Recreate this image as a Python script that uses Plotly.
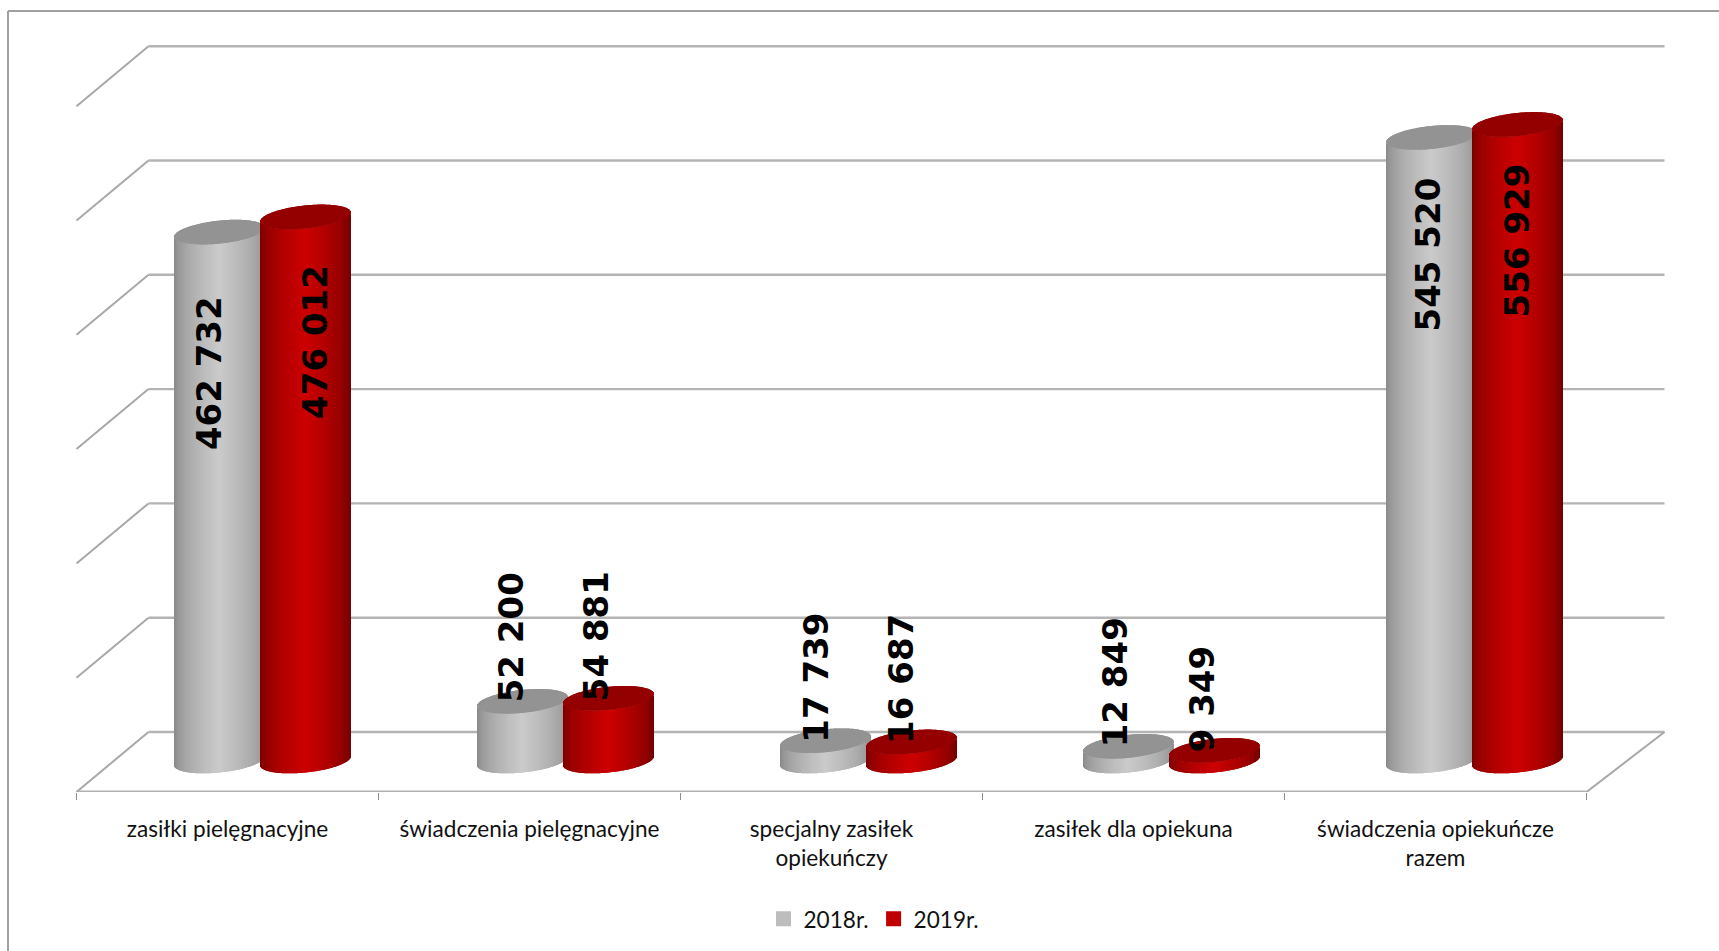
import math
import plotly.graph_objects as go

# ---- data ----
categories = ["zasiłki pielęgnacyjne", "świadczenia pielęgnacyjne",
              "specjalny zasiłek<br>opiekuńczy", "zasiłek dla opiekuna",
              "świadczenia opiekuńcze<br>razem"]
values_2018 = [462732, 52200, 17739, 12849, 545520]
values_2019 = [476012, 54881, 16687, 9349, 556929]
series_names = ["2018r.", "2019r."]
grid_values = [0, 100000, 200000, 300000, 400000, 500000, 600000]

# ---- geometry / style ----
W, H = 1719, 951
FLOOR_PX = 792          # front floor line
UNIT_PX = 114.3         # pixels per 100 000
CAT_PX = 302.0          # pixels per category
CAT0_PX = 227.5         # front centre of the first category
DEPTH_L, DEPTH_R, DEPTH_Y = 72.0, 78.0, 60.0
xu = lambda px: px / CAT_PX
yu = lambda px: px * 100000 / UNIT_PX
GREY_LINE = "#b4b4b4"

fig = go.Figure()


def line(x0, y0, x1, y1, color=GREY_LINE, width=2.4):
    fig.add_shape(type="line", xref="x", yref="y", x0=x0, y0=y0, x1=x1, y1=y1,
                  layer="below", line=dict(color=color, width=width))


back_l, back_r = -0.5 + xu(DEPTH_L), 4.5 + xu(DEPTH_R)
for v in grid_values:
    line(back_l, v + yu(DEPTH_Y), back_r, v + yu(DEPTH_Y))
    line(-0.5, v, back_l, v + yu(DEPTH_Y), "#a8a8a8", 2)
line(-0.5, yu(0.5), 4.5, yu(0.5), "#b0b0b0", 2.2)
line(4.5, 0, back_r, yu(DEPTH_Y), "#a8a8a8", 2)

# ---- cylinders ----
A_PX, B_PX, TILT_PX = 45.0, 11.5, 4.5
MID = yu(31)                   # level of the cylinder base centre
SHIFT = xu(35)
SEP = xu(43)
STRIDE = 303.0 / CAT_PX        # cylinder pairs sit slightly wider apart than the ticks
N = 90


def ramp(u, edge_l, mid, edge_r):
    t = 1 - abs(u)
    e = edge_l if u < 0 else edge_r
    s = t ** 0.55
    return "rgb(%d,%d,%d)" % tuple(round(e[k] + (mid[k] - e[k]) * s) for k in range(3))


def cylinder_series(values, sign, name, edge_l, mid, edge_r, top):
    xs, bases, ys, cols, tbases, tys = [], [], [], [], [], []
    for i, val in enumerate(values):
        cx = i * STRIDE + SHIFT + sign * SEP
        for j in range(N):
            u = -1 + (2 * j + 1) / N
            half = yu(B_PX) * math.sqrt(1 - u * u)
            low = MID - half + yu(TILT_PX) * u
            xs.append(cx + xu(A_PX) * u)
            bases.append(low)
            ys.append(val)
            cols.append(ramp(u, edge_l, mid, edge_r))
            tbases.append(low + val)
            tys.append(2 * half)
    width = xu(A_PX) * 2 / N
    fig.add_trace(go.Bar(x=xs, y=ys, base=bases, width=width,
                         marker=dict(color=cols, line=dict(width=0)), name=name,
                         showlegend=False, hoverinfo="skip"))
    fig.add_trace(go.Bar(x=xs, y=tys, base=tbases, width=width,
                         marker=dict(color=top, line=dict(width=0)), name=name + " top",
                         showlegend=False, hoverinfo="skip"))


cylinder_series(values_2018, -1, series_names[0], (132, 132, 132), (202, 202, 202), (140, 140, 140), "#939393")
cylinder_series(values_2019, 1, series_names[1], (118, 0, 0), (204, 0, 0), (108, 0, 0), "#940000")

# ---- legend entries ----
for name, col in zip(series_names, ["#bdbdbd", "#c00000"]):
    fig.add_trace(go.Scatter(x=[None], y=[None], mode="markers", name=name,
                             marker=dict(symbol="square", size=15, color=col)))

# ---- data labels (rotated) ----
label_dx = [[-11, -11, -8, -11, 0], [8, -13, -10, -11, 2]]
label_dy = [[-141, 64, 63, 64, -117], [-125, 62, 63, 51, -116]]
for s, (vals, sign) in enumerate([(values_2018, -1), (values_2019, 1)]):
    for i, val in enumerate(vals):
        fig.add_annotation(x=i + xu(36) + sign * xu(43.5), y=MID + val,
                           text=f"{val:,}".replace(",", " "), textangle=-90, showarrow=False,
                           xshift=label_dx[s][i], yshift=label_dy[s][i],
                           font=dict(family="DejaVu Sans", size=34, color="black", weight="bold"))

# ---- chart frame ----
frame = dict(type="line", xref="paper", yref="paper", line=dict(color="#a0a0a0", width=2))
fx, fy = 8 / W, 1 - 11 / FLOOR_PX
fig.add_shape(x0=fx, x1=fx, y0=fy, y1=1 - H / FLOOR_PX, **frame)
fig.add_shape(x0=fx, x1=1, y0=fy, y1=fy, **frame)

fig.update_layout(
    width=W, height=H, margin=dict(l=0, r=0, t=0, b=H - FLOOR_PX, pad=0),
    paper_bgcolor="white", plot_bgcolor="white", barmode="overlay",
    font=dict(family="Lato", size=22.6, color="#111111"),
    xaxis=dict(range=[xu(-CAT0_PX), xu(W - CAT0_PX)], tickmode="array",
               tickvals=list(range(5)), ticktext=categories, ticks="", showgrid=False,
               zeroline=False, showline=False, ticklabelstandoff=21, fixedrange=True,
               tickfont=dict(family="Lato", size=22.6, color="#111111"),
               minor=dict(tickmode="array", tickvals=[i - 0.5 for i in range(6)], ticks="outside",
                          ticklen=7, tickwidth=1.4, tickcolor="#8c8c8c", showgrid=False)),
    yaxis=dict(range=[0, yu(FLOOR_PX)], visible=False, fixedrange=True),
    legend=dict(orientation="h", x=874 / W, xanchor="center", y=(FLOOR_PX - 919) / FLOOR_PX,
                yanchor="middle", font=dict(family="Lato", size=22.6, color="#111111"),
                bgcolor="rgba(0,0,0,0)"),
)
fig.write_html("out.html", config=dict(displayModeBar=False),
               post_script="document.body.style.margin='0';document.body.style.overflow='hidden';")
